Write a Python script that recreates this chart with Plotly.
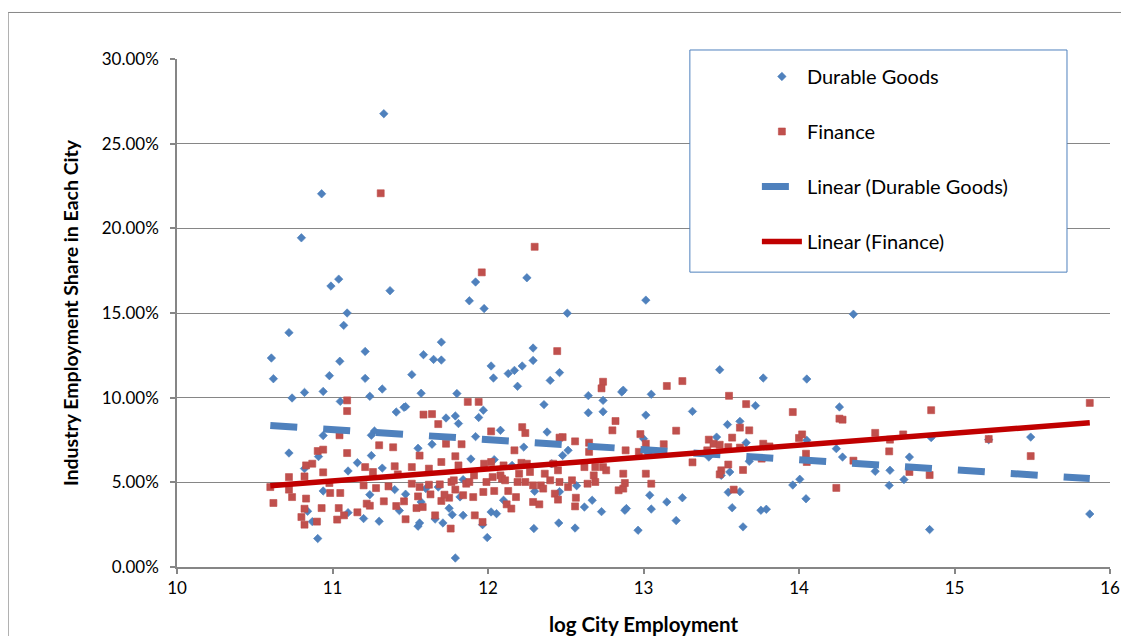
import numpy as np
import plotly.graph_objects as go

# ---------------- data ----------------
durable_x = [11.094, 11.072, 10.72, 10.607, 11.21, 11.70, 11.585, 11.65, 11.70, 10.62, 11.047, 10.98, 11.21, 11.51, 11.32,
             10.74, 10.82, 10.94, 11.24, 11.57, 11.80, 11.05, 11.41, 11.46, 11.47, 11.73, 11.79, 11.81, 10.94, 11.27,
             11.25, 11.64, 11.55, 10.72, 10.91, 11.25, 11.16, 11.32, 11.10, 10.82, 10.94, 11.24, 11.40, 11.47, 11.60,
             11.68, 11.57, 10.84, 11.10, 11.43, 11.75, 11.77, 10.87, 11.20, 11.30, 11.55, 11.56, 11.66, 11.71, 10.905,
             11.79, 11.82,
             11.33, 10.93, 10.80, 11.04, 10.99, 11.37,
             11.88, 11.975, 12.51, 12.29, 12.29, 12.02, 12.035, 12.13, 12.17, 12.22, 12.46, 12.40, 12.19, 12.645, 12.74,
             12.86, 12.87, 13.05, 12.36, 11.97, 11.94, 12.645, 12.74, 13.015, 12.08, 11.92, 12.38, 12.23, 12.48, 12.515,
             11.89, 12.04, 12.155, 13.0, 13.03, 12.41, 11.84, 12.46, 12.57, 12.30, 12.10, 12.02, 12.055, 11.84, 12.62,
             12.67, 12.73, 12.88, 12.89, 13.04, 13.05, 13.15, 12.295, 12.455, 12.56, 12.965, 11.995, 11.965,
             11.92, 12.25, 13.015,
             14.35, 13.49, 13.77, 14.05, 13.315, 13.72, 14.26, 13.54, 13.62, 13.47, 13.66, 13.42, 13.68, 14.05, 14.24,
             14.28, 14.49, 14.585, 13.555, 13.50, 13.96, 14.005, 14.58, 13.25, 13.545, 13.62, 13.57, 13.755, 13.79,
             14.045, 13.21, 13.64,
             14.71, 14.675, 14.85, 14.84, 15.22, 15.49, 15.87]
durable_y = [15.0, 14.27, 13.84, 12.34, 12.73, 13.28, 12.54, 12.26, 12.22, 11.12, 12.15, 11.30, 11.14, 11.36, 10.51,
             9.98, 10.31, 10.37, 10.08, 10.26, 10.24, 9.78, 9.15, 9.43, 9.47, 8.80, 8.92, 8.47, 7.76, 8.03,
             7.78, 7.25, 7.01, 6.73, 6.52, 6.58, 6.16, 5.84, 5.67, 5.81, 4.49, 4.27, 4.57, 4.30, 4.63,
             4.72, 3.84, 3.29, 3.21, 3.33, 3.47, 3.09, 2.68, 2.86, 2.70, 2.41, 2.60, 2.83, 2.60, 1.68,
             0.53, 4.14,
             26.77, 22.04, 19.44, 17.0, 16.59, 16.32,
             15.72, 15.26, 14.99, 12.93, 12.20, 11.87, 11.16, 11.42, 11.61, 11.87, 11.48, 11.02, 10.67, 10.12, 9.84,
             10.34, 10.44, 10.20, 9.59, 9.26, 8.83, 9.11, 9.17, 8.97, 8.07, 7.70, 7.97, 7.08, 6.59, 6.89,
             6.38, 6.34, 6.0, 7.58, 6.7, 6.10, 5.16, 4.45, 4.80, 4.47, 3.94, 3.25, 3.15, 3.05, 3.54,
             3.94, 3.27, 3.35, 3.45, 4.24, 3.42, 3.84, 2.27, 2.60, 2.30, 2.17, 1.74, 2.50,
             16.83, 17.08, 15.76,
             14.93, 11.65, 11.16, 11.10, 9.19, 9.53, 9.45, 8.41, 8.60, 7.67, 7.34, 6.49, 6.24, 7.48, 6.99,
             6.49, 5.65, 5.71, 5.61, 5.41, 4.84, 5.18, 4.82, 4.09, 4.41, 4.45, 3.50, 3.35, 3.41,
             4.03, 2.74, 2.37,
             6.49, 5.16, 7.64, 2.21, 7.52, 7.67, 3.13]

finance_x = [11.094, 11.094, 11.585, 11.64, 11.68, 11.045, 11.30, 11.39, 10.905, 10.94, 11.094, 11.56, 11.73, 11.79,
             11.70, 10.83, 10.87, 10.94, 10.72, 10.82, 11.21, 11.40, 11.51, 11.62, 11.26, 10.60, 10.72, 10.74, 10.98,
             10.985, 11.05, 11.20, 11.28, 11.36, 11.51, 11.56, 11.62, 11.69, 11.765, 11.79, 10.62, 10.83, 11.33, 11.46,
             11.55, 11.63, 11.70, 11.75, 11.72, 10.82, 10.93, 11.04, 11.22, 11.24, 11.41, 11.54, 11.58, 10.80, 11.074,
             11.16, 11.66, 10.82, 10.90, 11.03, 11.47, 11.76, 11.42, 11.31,
             12.445, 12.74, 12.73, 11.87, 11.94, 13.15, 12.82, 12.80, 12.02, 12.22, 12.24, 12.48, 12.46, 12.56, 12.98,
             13.015, 12.65, 12.65, 11.83, 12.17, 12.885, 12.97, 13.13, 11.975, 12.02, 12.10, 12.215, 12.25, 12.42,
             12.62, 12.69, 12.74, 11.81, 11.91, 12.03, 12.08, 12.20, 12.27, 12.365, 12.45, 12.68, 12.76, 12.87, 13.015,
             13.05, 11.78, 11.86, 11.88, 11.99, 12.09, 12.11, 12.19, 12.24, 12.29, 12.34, 12.40, 12.46, 12.515, 12.54,
             12.64, 12.69, 12.84, 12.87, 12.88, 11.84, 11.905, 11.97, 12.04, 12.13, 12.18, 12.355, 12.43, 12.45, 12.565,
             12.56, 12.29, 12.33, 12.12, 12.15, 11.915, 11.965,
             12.30, 11.96,
             13.25, 13.55, 13.66, 13.96, 14.26, 14.28, 13.21, 13.62, 13.68, 13.42, 13.45, 13.49, 13.545, 13.57, 13.62,
             13.77, 13.81, 14.0, 14.02, 14.045, 14.05, 14.49, 14.585, 14.58, 14.35, 13.315, 13.41, 13.545, 13.50,
             13.49, 13.64, 13.76, 13.58, 14.24,
             15.87, 14.85, 14.67, 15.22, 15.49, 14.71, 14.84]
finance_y = [9.84, 9.21, 9.0, 9.03, 8.44, 7.78, 7.19, 7.07, 6.85, 6.93, 6.73, 6.58, 7.28, 6.54,
             6.20, 6.0, 6.10, 5.59, 5.31, 5.35, 5.90, 5.95, 5.90, 5.81, 5.61, 4.72, 4.57, 4.13, 4.96,
             4.37, 4.37, 4.82, 4.66, 4.76, 4.92, 4.72, 4.86, 4.88, 5.02, 4.57, 3.78, 4.04, 3.88, 3.88,
             4.17, 4.29, 3.90, 4.09, 4.27, 3.44, 3.48, 3.48, 3.74, 3.62, 3.60, 3.48, 3.54, 2.95, 3.05,
             3.23, 3.05, 2.50, 2.68, 2.80, 2.82, 2.27, 5.47, 22.07,
             12.75, 10.94, 10.55, 9.75, 9.75, 10.69, 8.62, 8.07, 8.01, 8.26, 7.91, 7.67, 7.64, 7.42, 7.85,
             7.28, 7.34, 6.80, 7.25, 6.89, 6.89, 6.80, 7.25, 6.10, 6.20, 6.0, 6.15, 6.10, 6.10,
             5.90, 5.90, 5.90, 6.0, 5.41, 5.31, 5.41, 5.51, 5.61, 5.51, 5.71, 5.41, 5.71, 5.51, 5.51,
             4.92, 5.12, 4.92, 5.02, 5.02, 5.22, 5.12, 5.02, 5.02, 4.82, 4.82, 5.12, 5.02, 4.72, 5.12,
             4.92, 5.02, 4.53, 4.63, 4.96, 4.24, 4.13, 4.43, 4.49, 4.49, 4.13, 4.63, 4.33, 3.98, 4.09,
             3.58, 3.84, 3.70, 3.70, 3.45, 3.05, 2.66,
             18.91, 17.40,
             10.98, 10.11, 9.62, 9.15, 8.76, 8.70, 8.05, 8.23, 8.07, 7.52, 7.28, 7.22, 7.08, 7.64, 7.05,
             7.28, 7.12, 7.62, 7.83, 6.69, 6.20, 7.92, 7.52, 6.83, 6.28, 6.18, 6.89, 6.05, 5.71,
             5.47, 5.73, 6.40, 4.57, 4.67,
             9.69, 9.26, 7.83, 7.56, 6.55, 5.61, 5.43]

# linear trendlines (value at the first and last city)
trend_x = [10.60, 15.87]
durable_trend_y = [8.35, 5.22]
finance_trend_y = [4.80, 8.52]

series_names = ["Durable Goods", "Finance", "Linear (Durable Goods)", "Linear (Finance)"]
y_ticks = [0, 0.05, 0.10, 0.15, 0.20, 0.25, 0.30]
x_ticks = [10, 11, 12, 13, 14, 15, 16]

# ---------------- figure ----------------
FONT = "Lato, Carlito, Calibri, 'Liberation Sans', sans-serif"
BLUE = "#4F81BD"
RED = "#C0504D"
DARKRED = "#C00000"
GRID = "#868686"

fig = go.Figure()
fig.add_trace(go.Scatter(
    x=durable_x, y=[v / 100 for v in durable_y], mode="markers", name=series_names[0], legendgroup="a",
    marker=dict(symbol="diamond", size=6.5, color=BLUE, line=dict(width=0.6, color="#4A7EBB"))))
fig.add_trace(go.Scatter(
    x=finance_x, y=[v / 100 for v in finance_y], mode="markers", name=series_names[1], legendgroup="b",
    marker=dict(symbol="square", size=7, color=RED, line=dict(width=0.6, color="#BE4B48"))))
fig.add_trace(go.Scatter(
    x=trend_x, y=[v / 100 for v in durable_trend_y], mode="lines", name=series_names[2], legendgroup="c",
    line=dict(color=BLUE, width=7, dash="27px,26px")))
fig.add_trace(go.Scatter(
    x=trend_x, y=[v / 100 for v in finance_trend_y], mode="lines", name=series_names[3], legendgroup="d",
    line=dict(color=DARKRED, width=5.5)))

# The page places the figure 8px from the top-left corner of the window.
OFF = 8
W, H = 1129 - OFF, 636 - OFF
PL, PR, PT, PB = 177.3, 1110, 59, 566.7   # plot area in window pixels
L, T = PL - OFF, PT - OFF
R = W - (PR - OFF)
B = H - (PB - OFF)
pw, ph = W - L - R, H - T - B


def px_x(p):  # window pixel -> paper x
    return (p - OFF - L) / pw


def px_y(p):  # window pixel -> paper y
    return (H - B - (p - OFF)) / ph


fig.update_layout(
    width=W, height=H,
    margin=dict(l=L, r=R, t=T, b=B, pad=0, autoexpand=False),
    paper_bgcolor="white", plot_bgcolor="white",
    font=dict(family=FONT, size=16, color="black"),
    showlegend=True,
    legend=dict(
        x=px_x(757), y=px_y(57), xanchor="left", yanchor="top",
        bgcolor="rgba(0,0,0,0)", borderwidth=0,
        font=dict(family=FONT, size=20, color="black"),
        tracegroupgap=26, itemwidth=40,
    ),
    xaxis=dict(
        range=[10, 16], tickvals=x_ticks, ticktext=[str(v) for v in x_ticks],
        showgrid=False, zeroline=False, automargin=False,
        showline=True, linecolor=GRID, linewidth=1.5,
        ticks="outside", ticklen=5, tickcolor=GRID, tickwidth=1.5,
        tickfont=dict(size=17),
        title=dict(text="<b>log City Employment</b>", font=dict(size=20.5), standoff=20),
    ),
    yaxis=dict(
        range=[0, 0.30], tickvals=y_ticks, tickformat=".2%",
        showgrid=True, gridcolor=GRID, gridwidth=1.2, zeroline=False, automargin=False,
        showline=True, linecolor=GRID, linewidth=1.5,
        ticks="outside", ticklen=5, tickcolor=GRID, tickwidth=1.5,
        tickfont=dict(size=17), ticklabelstandoff=8,
        title=dict(text="<b>Industry Employment Share in Each City</b>", font=dict(size=19.5), standoff=18),
    ),
    shapes=[
        # outer chart border
        dict(type="rect", xref="paper", yref="paper",
             x0=px_x(8.5), x1=px_x(1160), y0=px_y(660), y1=px_y(12.5),
             line=dict(color=GRID, width=1), fillcolor="rgba(0,0,0,0)", layer="below"),
        # legend box
        dict(type="rect", xref="paper", yref="paper",
             x0=px_x(690), x1=px_x(1067), y0=px_y(272), y1=px_y(50),
             line=dict(color=BLUE, width=1), fillcolor="white", layer="above"),
    ],
)

fig.write_html("out.html")
